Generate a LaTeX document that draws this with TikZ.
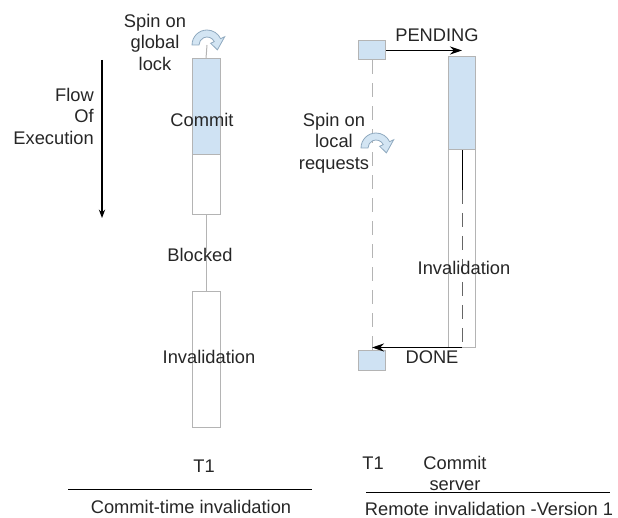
\documentclass[tikz,border=0pt]{standalone}
\usepackage{fontspec}
\setmainfont{Liberation Sans}
\usetikzlibrary{arrows.meta,positioning,calc}
\definecolor{busyblue}{HTML}{CFE2F3}
\definecolor{laneedge}{HTML}{B4B4B4}
\definecolor{spinedge}{HTML}{8FA9BF}
\definecolor{spinfill}{HTML}{D3E5F3}

\tikzset{
  lane/.style={draw=laneedge,line width=1pt,fill=white,minimum width=28pt,inner sep=0pt},
  busy/.style={lane,fill=busyblue},
  txt/.style={font=\fontsize{18.3}{21.5}\selectfont,inner sep=0pt,align=center,text=black!85},
  msg/.style={-{Stealth[length=12pt,width=8pt]},line width=1.3pt},
}
% curved "spin" arrow, centred on the given point
\newcommand\spinarrow[1]{%
  \begin{scope}[shift={(#1)},yscale=-1]
    \filldraw[fill=spinfill,draw=spinedge,line width=.8pt]
      (180:15) arc[start angle=180,end angle=25,radius=15] -- (25:19.5)
      -- (-25:11.5) -- (25:4) -- (25:8) arc[start angle=25,end angle=180,radius=8] -- cycle;
  \end{scope}}

\begin{document}
\begin{tikzpicture}[x=1pt,y=-1pt,>=Stealth]
\useasboundingbox (0,0) rectangle (618,518);

% commit-time invalidation
\node[busy,minimum height=96pt] (commit) at (206,107) {};
\node[lane,minimum height=60pt] (waitL) at (206,185) {};
\node[lane,minimum height=135pt] (invL) at (206,359.5) {};
\node[txt] (commitT) at (202,120) {Commit};
\node[txt] (blocked) at (200,255) {Blocked};
\node[txt] (invLT) at (209,357) {Invalidation};
\node[txt] (spinG) at (155,42) {Spin on\\global\\lock};
\coordinate (spinLc) at (207,45);
\draw[laneedge,line width=1pt] (spinLc) -- (commit.north);
\draw[laneedge,line width=1pt] (waitL.south) -- ([yshift=-5pt]waitL.south |- blocked.north);
\draw[laneedge,line width=1pt] ([yshift=5pt]invL.north |- blocked.south) -- (invL.north);
\spinarrow{spinLc}

\coordinate (flowTop) at (102,60);
\coordinate (flowEnd) at (102,218);
\draw[->,line width=1.2pt] (flowTop) -- (flowEnd);
\node[txt,align=right,anchor=east] (flow) at (94,116) {Flow\\Of\\Execution};

% remote invalidation
\node[busy,minimum width=27pt,minimum height=19pt] (t1Top) at (372,50.5) {};
\node[busy,minimum width=27pt,minimum height=20pt] (t1Bot) at (372,360) {};
\node[busy,minimum width=27pt,minimum height=93pt] (csBusy) at (462,103.5) {};
\node[lane,minimum width=27pt,minimum height=197pt] (csWait) at (462,248.5) {};
\draw[laneedge,line width=1pt,dash pattern=on 14pt off 9pt] (t1Top.south) -- (t1Bot.north);
\coordinate (csSolid) at (462,190);
\draw[line width=1pt] (csBusy.south) -- (csSolid);
\draw[black!60,line width=1pt,dash pattern=on 14pt off 9pt] (csSolid) -- (csWait.south);
\draw[msg] (t1Top.east) -- (t1Top.east -| csBusy);
\draw[msg] (csWait.south) -- (csWait.south -| t1Bot);
\node[txt] (pending) at (437,35) {PENDING};
\node[txt] (done) at (432,357) {DONE};
\node[txt] (invRT) at (464,268) {Invalidation};
\node[txt] (spinR) at (334,143) {Spin on\\local\\requests};
\coordinate (spinRc) at (376,148);
\spinarrow{spinRc}

% captions
\node[txt] (t1L) at (204,466) {T1};
\node[txt] (capL) at (191,507) {Commit-time invalidation};
\draw[line width=1pt] (68,489) -- (312,489);
\node[txt] (t1R) at (373,463) {T1};
\node[txt] (cs) at (455,473.5) {Commit\\server};
\node[txt] (capR) at (489,509) {Remote invalidation -Version 1};
\draw[line width=1pt] (366,492) -- (610,492);
\end{tikzpicture}
\end{document}
